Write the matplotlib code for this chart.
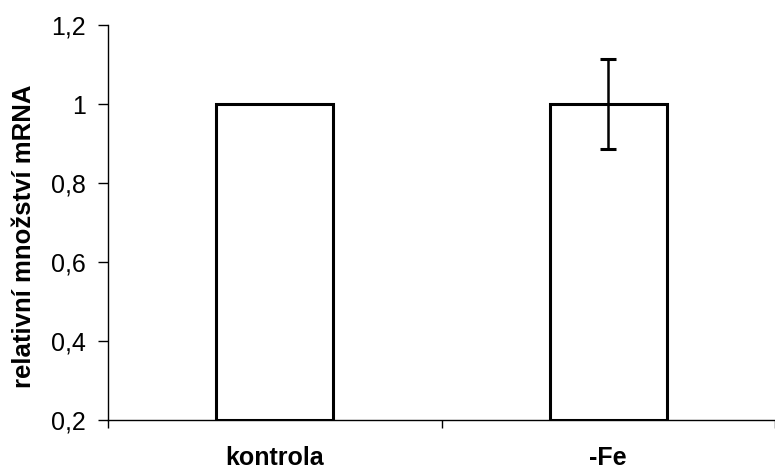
import matplotlib
matplotlib.use("Agg")
import matplotlib.pyplot as plt
from matplotlib.ticker import FixedLocator, FuncFormatter

categories = ["kontrola", "-Fe"]
values = [1.0, 1.0]
errors = [0.0, 0.114]
yticks = [0.2, 0.4, 0.6, 0.8, 1.0, 1.2]

plt.rcParams['font.family'] = ['Liberation Sans', 'DejaVu Sans']

fig = plt.figure(figsize=(7.75, 4.69), dpi=100)
ax = fig.add_axes([108/775, 1-420/469, 1-108/775, (420-25)/469])

x = list(range(len(categories)))
bottom = 0.2
ax.bar(x, [v - bottom for v in values], bottom=bottom, width=0.35,
       color='white', edgecolor='black', linewidth=2.2, zorder=2)
for xi, v, e in zip(x, values, errors):
    if e > 0:
        ax.errorbar(xi, v, yerr=e, fmt='none', ecolor='black',
                    elinewidth=1.8, capsize=6, capthick=2.2, zorder=3)

ax.set_xlim(-0.5, len(categories) - 0.5)
ax.set_ylim(0.2, 1.2)
ax.set_yticks(yticks)
ax.yaxis.set_major_formatter(FuncFormatter(lambda v, p: ('%g' % round(v, 2)).replace('.', ',')))
ax.set_xticks(x)
ax.set_xticklabels(categories, fontsize=18, fontweight='bold')
ax.xaxis.set_minor_locator(FixedLocator([-0.5, 0.5, 1.5]))
ax.tick_params(axis='x', which='major', length=0, pad=19)
ax.tick_params(axis='x', which='minor', length=6, width=1, direction='out')
ax.tick_params(axis='y', which='major', length=7, width=1, direction='out',
               labelsize=18, pad=9)

for s in ['top', 'right']:
    ax.spines[s].set_visible(False)
for s in ['left', 'bottom']:
    ax.spines[s].set_linewidth(1)

fig.text(24/775, 1-236/469, "relativní množství mRNA", rotation=90,
         ha='center', va='center', fontsize=18.5, fontweight='bold')

fig.savefig("out.png", dpi=100)
